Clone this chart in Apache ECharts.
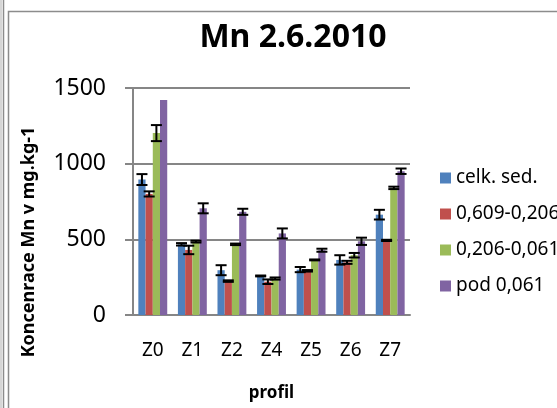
<!DOCTYPE html>
<html>
<head>
<meta charset="utf-8">
<script src="https://cdn.jsdelivr.net/npm/echarts@6/dist/echarts.min.js"></script>
<style>
  html, body { margin: 0; padding: 0; background: #fff; }
  #chart { width: 557px; height: 408px; }
</style>
</head>
<body>
<div id="chart"></div>
<script>
// data
var categories = ['Z0', 'Z1', 'Z2', 'Z4', 'Z5', 'Z6', 'Z7'];
var seriesNames = ['celk. sed.', '0,609-0,206', '0,206-0,061', 'pod 0,061'];
var celkSed = [895, 467, 296, 258, 300, 364, 663];
var celkSedErr = [36, 8, 33, 3, 17, 31, 32];
var frakce1 = [800, 430, 224, 220, 292, 348, 493];
var frakce1Err = [17, 28, 5, 15, 5, 10, 4];
var frakce2 = [1202, 485, 467, 241, 364, 395, 840];
var frakce2Err = [53, 6, 5, 7, 3, 15, 8];
var pod = [1420, 705, 682, 539, 428, 487, 950];
var podErr = [0, 33, 20, 33, 10, 24, 18];
var yTicks = [0, 500, 1000, 1500];

var colors = ['#4F81BD', '#C0504D', '#9BBB59', '#8064A2'];
var gapPct = 0.27;
var font = '"Noto Sans", "Liberation Sans", sans-serif';

function barSeries(name, vals, k) {
  return {
    name: name,
    type: 'bar',
    data: vals,
    barGap: 0,
    barCategoryGap: (gapPct * 100) + '%',
    itemStyle: { color: colors[k] },
    silent: true
  };
}

// error bars drawn on top of each bar
function errSeries(vals, errs, k) {
  return {
    type: 'custom',
    silent: true,
    z: 10,
    encode: { x: 0, y: 1 },
    data: vals.map(function (v, i) { return [i, v, errs[i]]; }),
    renderItem: function (params, api) {
      var e = api.value(2);
      if (!e) return;
      var x = api.value(0), v = api.value(1);
      var band = api.size([1, 0])[0];
      var bw = band * (1 - gapPct) / 4;
      var cx = api.coord([x, v])[0] + (k - 1.5) * bw;
      var top = api.coord([x, v + e])[1];
      var bot = api.coord([x, v - e])[1];
      var hw = 5.5;
      var st = { stroke: '#000', lineWidth: 2 };
      return {
        type: 'group',
        children: [
          { type: 'line', shape: { x1: cx, y1: top, x2: cx, y2: bot }, style: st },
          { type: 'line', shape: { x1: cx - hw, y1: top, x2: cx + hw, y2: top }, style: st },
          { type: 'line', shape: { x1: cx - hw, y1: bot, x2: cx + hw, y2: bot }, style: st }
        ]
      };
    }
  };
}

var chart = echarts.init(document.getElementById('chart'));
chart.setOption({
  animation: false,
  title: {
    text: 'Mn 2.6.2010',
    left: 288,
    textAlign: 'center',
    top: 17,
    textStyle: { fontFamily: font, fontSize: 32, fontWeight: 'bold', color: '#000' }
  },
  legend: {
    orient: 'vertical',
    left: 440,
    top: 168,
    padding: 0,
    data: seriesNames,
    itemWidth: 11,
    itemHeight: 11,
    itemGap: 16,
    icon: 'rect',
    textStyle: { fontFamily: font, fontSize: 19, color: '#000', lineHeight: 20 }
  },
  grid: { left: 133, right: 147, top: 88, bottom: 93 },
  xAxis: {
    type: 'category',
    data: categories,
    name: 'profil',
    nameLocation: 'middle',
    nameGap: 70,
    nameTextStyle: { fontFamily: font, fontSize: 17, fontWeight: 'bold', color: '#000' },
    axisLine: { lineStyle: { color: '#868686', width: 2 } },
    axisTick: { show: false },
    axisLabel: { fontFamily: font, fontSize: 19, color: '#000', margin: 26 }
  },
  yAxis: {
    type: 'value',
    min: yTicks[0],
    max: yTicks[yTicks.length - 1],
    interval: 500,
    axisLine: { show: true, lineStyle: { color: '#868686', width: 2 } },
    axisTick: { show: true, length: 8, lineStyle: { color: '#868686', width: 2 } },
    splitLine: { lineStyle: { color: '#868686', width: 2 } },
    axisLabel: { fontFamily: font, fontSize: 23, color: '#000', margin: 27,
                 formatter: function (v) { return String(v); } }
  },
  graphic: [
    { type: 'text', x: 29, y: 242, rotation: Math.PI / 2,
      style: { text: 'Koncenrace Mn v mg.kg-1', font: 'bold 18px ' + font, fill: '#000',
               textAlign: 'center', textVerticalAlign: 'middle' } },
    { type: 'line', shape: { x1: 1, y1: 0, x2: 1, y2: 408 }, style: { stroke: '#c8c8c8', lineWidth: 1.5 } },
    { type: 'line', shape: { x1: 3.5, y1: 0, x2: 3.5, y2: 408 }, style: { stroke: '#8c8c8c', lineWidth: 1.5 } },
    { type: 'polyline', shape: { points: [[8.5, 408], [8.5, 11.5], [557, 11.5]] }, style: { stroke: '#8c8c8c', lineWidth: 1.5, fill: null } }
  ],
  series: [
    barSeries(seriesNames[0], celkSed, 0),
    barSeries(seriesNames[1], frakce1, 1),
    barSeries(seriesNames[2], frakce2, 2),
    barSeries(seriesNames[3], pod, 3),
    errSeries(celkSed, celkSedErr, 0),
    errSeries(frakce1, frakce1Err, 1),
    errSeries(frakce2, frakce2Err, 2),
    errSeries(pod, podErr, 3)
  ]
});
</script>
</body>
</html>
